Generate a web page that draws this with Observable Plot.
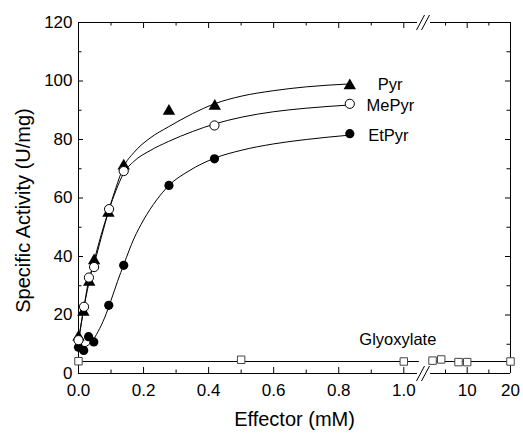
<!DOCTYPE html>
<html><head><meta charset="utf-8">
<script src="https://cdn.jsdelivr.net/npm/d3@7"></script>
<script src="https://cdn.jsdelivr.net/npm/@observablehq/plot@0.6"></script>
<style>
body{margin:0;background:#fff;}
#chart svg{font-family:"Liberation Sans",Arial,sans-serif;color:#000;background:#fff;}
</style>
</head><body><div id="chart"></div>
<script>
// ---- data ----
const pyrX = [0, 0.015, 0.033, 0.048, 0.092, 0.139, 0.278, 0.419, 0.834];
const pyrY = [12.4, 21, 31.2, 38.6, 54.8, 71, 89.7, 91.4, 98.4];
const mePyrX = [0, 0.017, 0.032, 0.048, 0.094, 0.139, 0.418, 0.834];
const mePyrY = [11.4, 22.8, 32.8, 36.4, 56.2, 69.2, 84.8, 92.2];
const etPyrX = [0, 0.016, 0.031, 0.047, 0.093, 0.139, 0.278, 0.418, 0.834];
const etPyrY = [9.0, 7.9, 12.6, 10.8, 23.3, 37, 64.3, 73.4, 82.0];
const glyX = [0, 0.5, 1.0, 2, 4, 8, 10, 20];
const glyY = [4.2, 4.7, 4.1, 4.4, 4.8, 3.9, 3.9, 4.1];

// fitted curves
const pyrFitX = [0, 0.015, 0.031, 0.047, 0.07, 0.092, 0.115, 0.138, 0.17, 0.22, 0.276, 0.35, 0.418, 0.5, 0.6, 0.7, 0.834];
const pyrFitY = [11.5, 21.5, 30.5, 38, 47.5, 55.5, 63.5, 70.5, 75.5, 80.5, 84.3, 88.8, 92.2, 94.8, 96.7, 98, 99.0];
const mePyrFitX = [0, 0.017, 0.032, 0.048, 0.07, 0.094, 0.115, 0.139, 0.17, 0.22, 0.276, 0.35, 0.418, 0.5, 0.6, 0.7, 0.834];
const mePyrFitY = [11, 22.8, 32.3, 37.5, 46.5, 56, 62.5, 68.5, 72.5, 76.2, 79.3, 82.7, 85.3, 87.6, 89.5, 90.7, 91.8];
const etPyrFitX = [0, 0.02, 0.04, 0.06, 0.08, 0.1, 0.12, 0.14, 0.17, 0.2, 0.24, 0.278, 0.34, 0.418, 0.5, 0.6, 0.7, 0.834];
const etPyrFitY = [8.3, 9, 10.8, 14.3, 19, 25, 31.5, 37.5, 46, 52.5, 59.3, 64.3, 69.3, 73.6, 76.3, 78.5, 80, 81.5];
const glyFitLevel = 4.1;
const glyFitSegments = [[0, 1.045], [2, 20]];

// axis ticks
const xMajorTicks = [0, 0.2, 0.4, 0.6, 0.8, 1.0, 10, 20];
const xMajorLabels = ["0.0", "0.2", "0.4", "0.6", "0.8", "1.0", "10", "20"];
const xMinorTicks = [0.1, 0.3, 0.5, 0.7, 0.9, 5, 15];
const yMajorTicks = [0, 20, 40, 60, 80, 100, 120];
const yMinorTicks = [10, 30, 50, 70, 90, 110];

const seriesNames = ["Pyr", "MePyr", "EtPyr", "Glyoxylate"];
const xTitle = "Effector (mM)";
const yTitle = "Specific Activity (U/mg)";

// ---- broken x axis: left part 0..1.05, right part 1..20 compressed ----
const LEFT_MAX = 1.05, RIGHT_U0 = 1.075, U_MAX = 1.328;
const RIGHT_SLOPE = (U_MAX - RIGHT_U0) / 19;
const bx = x => x <= LEFT_MAX ? x : RIGHT_U0 + (x - 1) * RIGHT_SLOPE;

const W = 523, H = 433, ML = 78, MR = 13, MT = 22, MB = 60;
const pxU = (W - ML - MR) / U_MAX;      // px per u
const pxY = (H - MT - MB) / 120;        // px per y unit

const pts = (xs, ys) => xs.map((x, i) => ({x, y: ys[i]}));
const pyr = pts(pyrX, pyrY), mePyr = pts(mePyrX, mePyrY), etPyr = pts(etPyrX, etPyrY), gly = pts(glyX, glyY);
const pyrFit = pts(pyrFitX, pyrFitY), mePyrFit = pts(mePyrFitX, mePyrFitY), etPyrFit = pts(etPyrFitX, etPyrFitY);
const glyFit = glyFitSegments.flatMap((s, k) => s.map(x => ({x, y: glyFitLevel, k})));

const labelMap = new Map(xMajorTicks.map((t, i) => [bx(t), xMajorLabels[i]]));

const majX = 6 / pxY, minX = 3.5 / pxY;   // x-tick lengths (in y units)
const majY = 5 / pxU, minY = 3.5 / pxU;   // y-tick lengths (in u units)

// break location (u units) and slash geometry
const uAt = px => (px - ML) / pxU;
const gapL = uAt(417), gapR = uAt(430);
const sH = 7.5 / pxY;
const slashes = [0, 120].flatMap(y0 => [
  {x1: uAt(416), x2: uAt(424), y1: y0 - sH, y2: y0 + sH},
  {x1: uAt(421), x2: uAt(429), y1: y0 - sH, y2: y0 + sH}
]);
const frameSegs = [0, 120].flatMap(y => [{y, x1: 0, x2: gapL}, {y, x1: gapR, x2: U_MAX}]);

const lastOf = a => [a[a.length - 1]];

const chart = Plot.plot({
  width: W, height: H,
  marginLeft: ML, marginRight: MR, marginTop: MT, marginBottom: MB,
  x: {domain: [0, U_MAX]},
  y: {domain: [0, 120]},
  style: {fontFamily: '"Liberation Sans", Arial, sans-serif', color: "#000", background: "#fff"},
  marks: [
    // frame
    Plot.ruleX([0, U_MAX], {x: d => d, y1: () => 0, y2: () => 120, stroke: "#000"}),
    Plot.ruleY(frameSegs, {y: "y", x1: "x1", x2: "x2", stroke: "#000"}),
    Plot.link(slashes, {x1: "x1", x2: "x2", y1: "y1", y2: "y2", stroke: "#000"}),
    // inward ticks bottom / top
    Plot.ruleX(xMajorTicks, {x: d => bx(d), y1: () => 0, y2: () => majX, stroke: "#000"}),
    Plot.ruleX(xMinorTicks, {x: d => bx(d), y1: () => 0, y2: () => minX, stroke: "#000"}),
    Plot.ruleX(xMajorTicks, {x: d => bx(d), y1: () => 120, y2: () => 120 - majX, stroke: "#000"}),
    Plot.ruleX(xMinorTicks, {x: d => bx(d), y1: () => 120, y2: () => 120 - minX, stroke: "#000"}),
    // inward ticks left / right
    Plot.ruleY(yMajorTicks, {y: d => d, x1: () => 0, x2: () => majY, stroke: "#000"}),
    Plot.ruleY(yMinorTicks, {y: d => d, x1: () => 0, x2: () => minY, stroke: "#000"}),
    Plot.ruleY(yMajorTicks, {y: d => d, x1: () => U_MAX, x2: () => U_MAX - majY, stroke: "#000"}),
    Plot.ruleY(yMinorTicks, {y: d => d, x1: () => U_MAX, x2: () => U_MAX - minY, stroke: "#000"}),
    // tick labels
    Plot.axisY({ticks: yMajorTicks, tickSize: 0, tickPadding: 6, fontSize: 17, label: null}),
    Plot.axisX({ticks: xMajorTicks.map(bx), tickFormat: u => labelMap.get(u), tickSize: 0, tickPadding: 10, fontSize: 17, label: null}),
    // axis titles
    Plot.text([xTitle], {text: d => d, frameAnchor: "bottom", textAnchor: "middle", lineAnchor: "top", dy: 38.5, fontSize: 20}),
    Plot.text([yTitle], {text: d => d, frameAnchor: "left", textAnchor: "middle", rotate: -90, lineAnchor: "middle", dx: -55, dy: 12.5, fontSize: 20}),
    // fitted curves
    Plot.line(pyrFit, {x: d => bx(d.x), y: "y", curve: "monotone-x", stroke: "#000", strokeWidth: 1}),
    Plot.line(mePyrFit, {x: d => bx(d.x), y: "y", curve: "monotone-x", stroke: "#000", strokeWidth: 1}),
    Plot.line(etPyrFit, {x: d => bx(d.x), y: "y", curve: "monotone-x", stroke: "#000", strokeWidth: 1}),
    Plot.line(glyFit, {x: d => bx(d.x), y: "y", z: "k", stroke: "#000", strokeWidth: 1}),
    // data points
    Plot.dot(gly, {x: d => bx(d.x), y: "y", symbol: "square", r: 4.2, fill: "#fff", stroke: "#444", strokeWidth: 1}),
    Plot.dot(pyr, {x: d => bx(d.x), y: "y", symbol: "triangle", r: 4.6, fill: "#000", stroke: "none"}),
    Plot.dot(etPyr, {x: d => bx(d.x), y: "y", r: 4.6, fill: "#000", stroke: "none"}),
    Plot.dot(mePyr, {x: d => bx(d.x), y: "y", r: 4.6, fill: "#fff", stroke: "#000", strokeWidth: 1}),
    // series labels
    Plot.text(lastOf(pyr), {x: d => bx(d.x), y: "y", text: () => seriesNames[0], textAnchor: "start", dx: 28, dy: -1.2, fontSize: 16.5}),
    Plot.text(lastOf(mePyr), {x: d => bx(d.x), y: "y", text: () => seriesNames[1], textAnchor: "start", dx: 16.7, dy: 2, fontSize: 16.5}),
    Plot.text(lastOf(etPyr), {x: d => bx(d.x), y: "y", text: () => seriesNames[2], textAnchor: "start", dx: 18.4, dy: 1.8, fontSize: 16.5}),
    Plot.text([gly[2]], {x: d => bx(d.x), y: "y", text: () => seriesNames[3], textAnchor: "start", dx: -44.5, dy: -22, fontSize: 16.5})
  ]
});
document.getElementById("chart").append(chart);
</script>
</body></html>
